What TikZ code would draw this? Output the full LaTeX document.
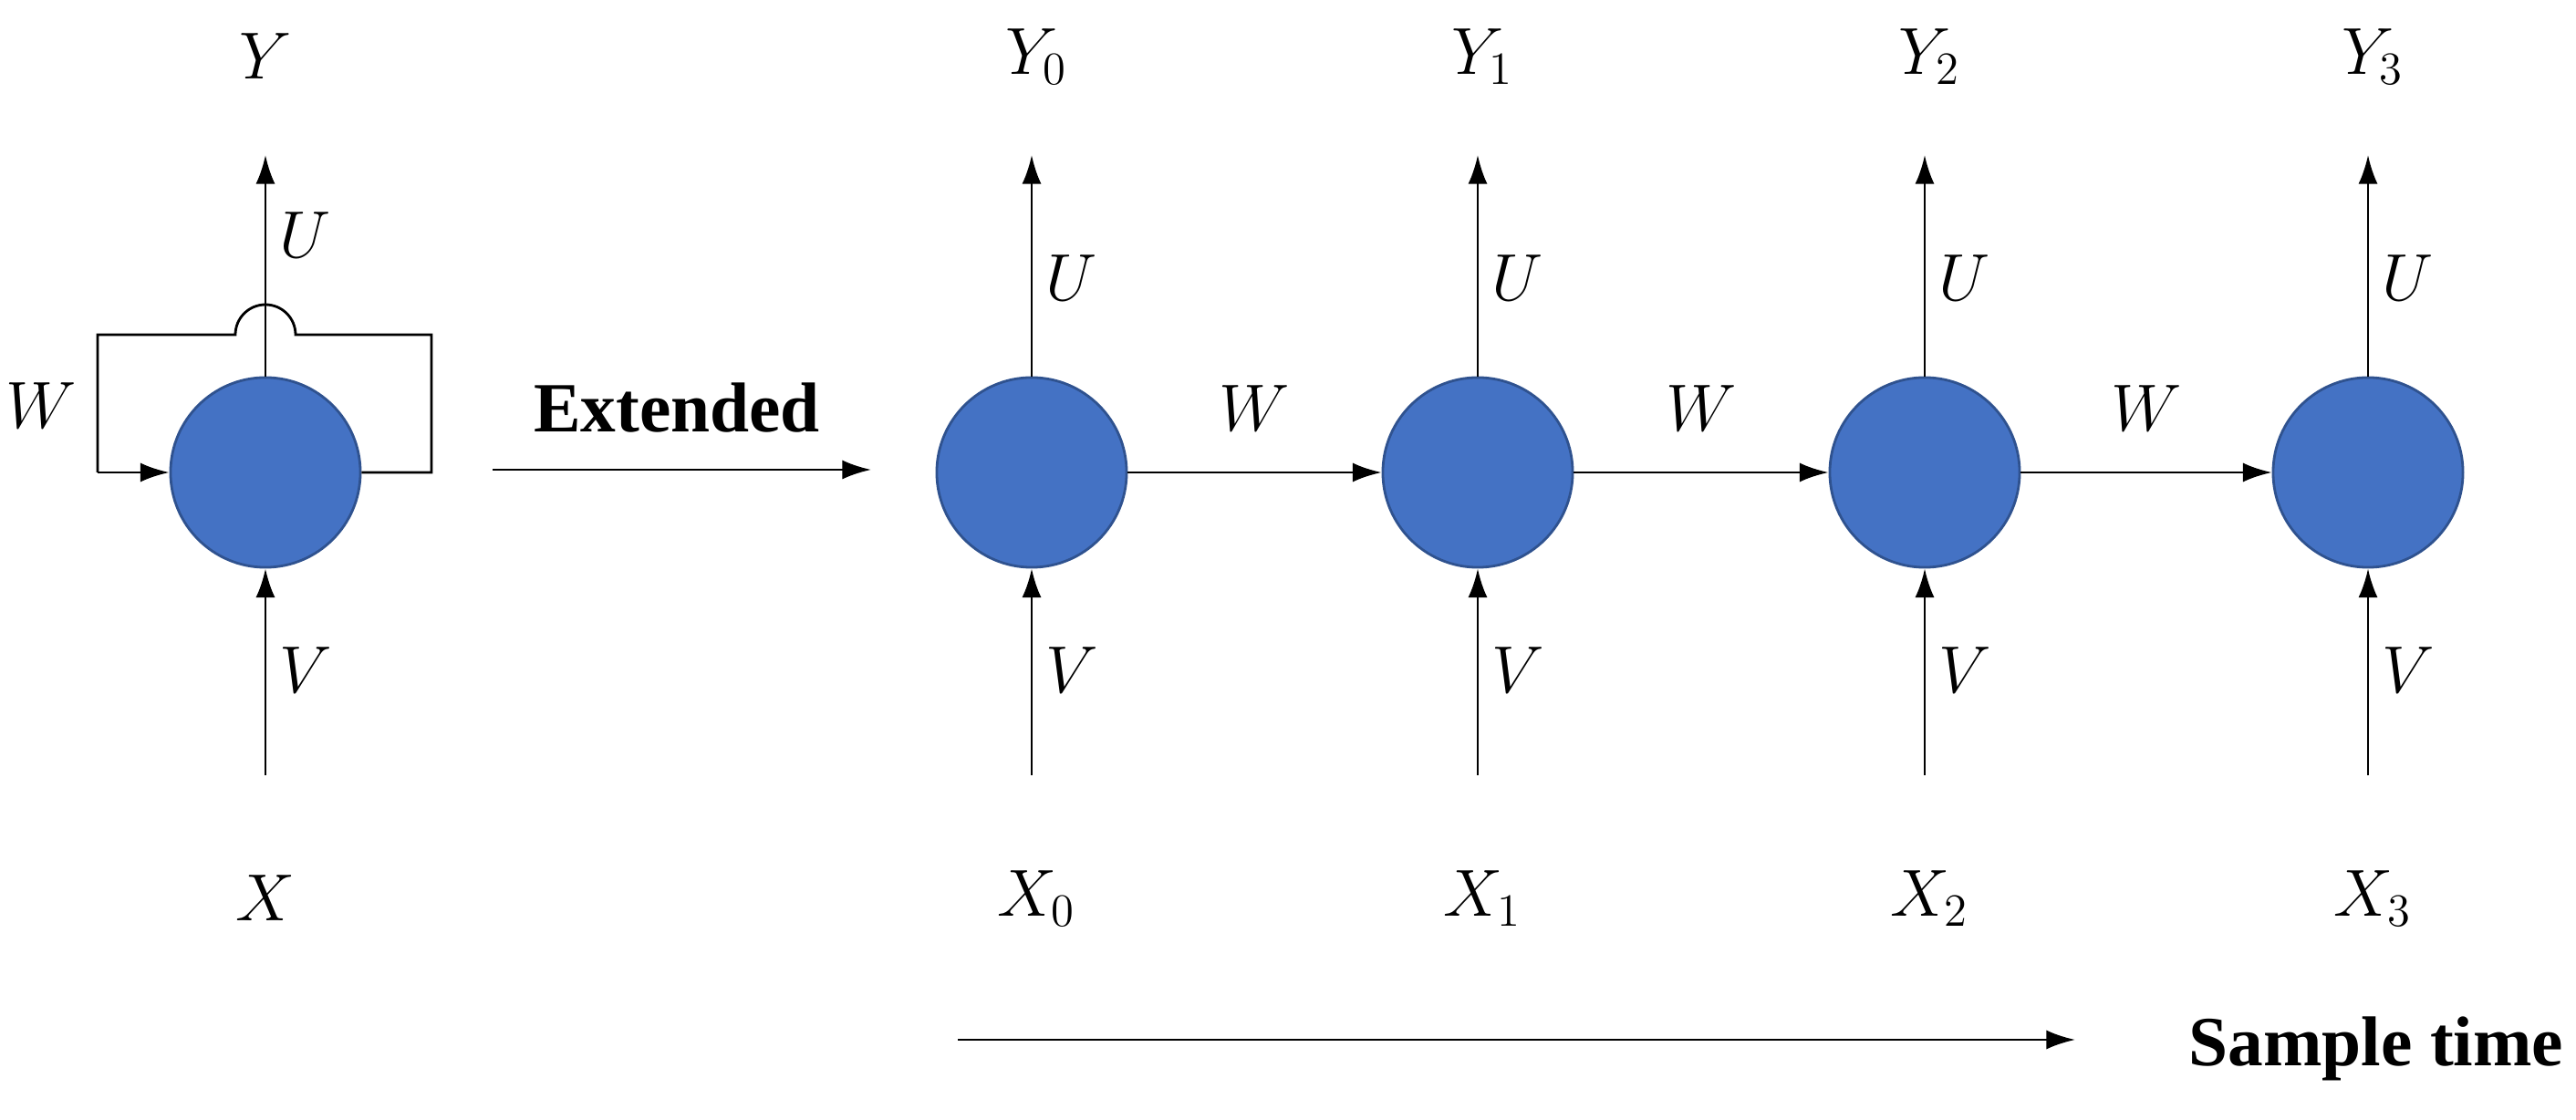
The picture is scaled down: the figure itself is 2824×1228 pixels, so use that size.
\documentclass[tikz,border=0pt]{standalone}
\usepackage{fontspec}
\setmainfont{Liberation Serif}
\usetikzlibrary{arrows.meta}
\definecolor{nodeblue}{HTML}{4472C4}
\definecolor{nodeedge}{HTML}{2F528F}
\begin{document}
\begin{tikzpicture}[x=0.01cm,y=-0.01cm,
  cell/.style={circle,fill=nodeblue,draw=nodeedge,line width=0.8pt,minimum size=2.08cm,inner sep=0pt},
  arr/.style={-{Latex[length=9pt,width=6pt]},line width=0.8pt},
  lbl/.style={font=\fontsize{20}{24}\selectfont},
  bold/.style={font=\fontsize{22}{26}\selectfont\bfseries}]
\useasboundingbox (0,0) rectangle (2824,1228);
% left folded cell
\node[cell] (c) at (291,518) {};
\node[lbl] (y) at (291,62) {$Y$};
\node[lbl] (x) at (291,985) {$X$};
\coordinate (ytop) at (291,170);
\coordinate (xbot) at (291,850);
\draw[arr] (c.north) -- (ytop);
\draw[arr] (xbot) -- (c.south);
\node[lbl] at (335,258) {$U$};
\node[lbl] at (335,735) {$V$};
\node[lbl] at (45,445) {$W$};
\coordinate (r1) at (473,518);
\coordinate (r2) at (473,367);
\coordinate (h1) at (324,367);
\coordinate (l1) at (107,367);
\coordinate (l2) at (107,518);
\draw[line width=0.8pt] (c.east) -- (r1) -- (r2) -- (h1) arc[start angle=0,end angle=-180,radius=33] -- (l1) -- (l2);
\draw[arr] (l2) -- (c.west);
% extended arrow
\coordinate (e1) at (540,515);
\coordinate (e2) at (955,515);
\draw[arr] (e1) -- (e2);
\node[bold] at (742,447) {Extended};
% unrolled
\foreach \i/\xx in {0/1131,1/1620,2/2110,3/2596}{
  \node[cell] (c\i) at (\xx,518) {};
  \node[lbl] (y\i) at (\xx+5,62) {$Y_{\i}$};
  \node[lbl] (x\i) at (\xx+5,985) {$X_{\i}$};
  \coordinate (yt\i) at (\xx,170);
  \coordinate (xb\i) at (\xx,850);
  \draw[arr] (c\i.north) -- (yt\i);
  \draw[arr] (xb\i) -- (c\i.south);
  \node[lbl] at (\xx+44,305) {$U$};
  \node[lbl] at (\xx+44,735) {$V$};
}
\foreach \a/\b in {0/1,1/2,2/3}{
  \draw[arr] (c\a.east) -- (c\b.west);
  \path (c\a) -- node[lbl,pos=0.5,yshift=0.7cm]{$W$} (c\b);
}
% sample time
\coordinate (s1) at (1050,1140);
\coordinate (s2) at (2275,1140);
\draw[arr] (s1) -- (s2);
\node[bold] at (2605,1150) {Sample time};
\end{tikzpicture}
\end{document}
